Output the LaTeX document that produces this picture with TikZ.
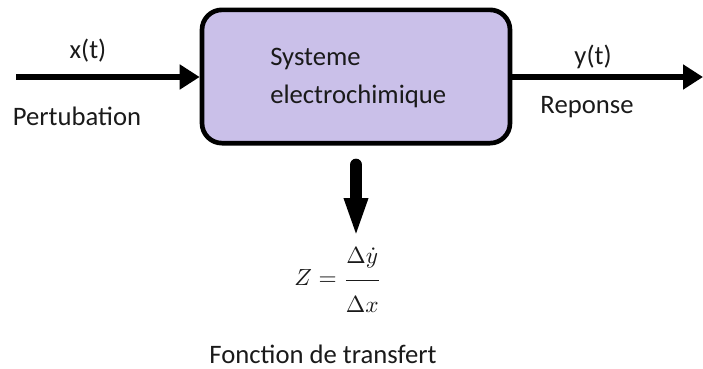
\documentclass[tikz,border=0pt]{standalone}
\usepackage{fontspec}
\setmainfont{Carlito}
\usepackage{amsmath}
\usetikzlibrary{arrows.meta,positioning,calc}
\definecolor{sysFill}{HTML}{CAC0E9}
\definecolor{sysText}{HTML}{1A1A1A}
\tikzset{
  sysbox/.style={
    draw, line width=3.5pt, rounded corners=15pt, fill=sysFill,
    minimum width=231pt, minimum height=100pt
  },
  txt/.style={font=\fontsize{20}{28.5}\selectfont, text=sysText, inner sep=0pt},
  sig/.style={-{Triangle[length=15pt, width=18pt]}, line width=4.2pt},
  bigarrow/.style={-{Triangle[length=30pt, width=16pt]}, line width=9.5pt, line cap=round}
}
\begin{document}
\begin{tikzpicture}[x=0.75pt, y=-0.75pt]
  \useasboundingbox (0,0) rectangle (703,368);
  \node[sysbox] (sys) at (356,76.5) {};
  \node[txt, anchor=west, align=left] (systxt) at (270,78) {Systeme\\electrochimique};
  \coordinate (in) at (16,77);
  \coordinate (out) at (703,77);
  \draw[sig] (in) -- (sys.west |- in);
  \draw[sig] (sys.east |- out) -- (out);
  \node[txt] (xt) at (88,51) {x(t)};
  \node[txt] (pert) at (77,116) {Pertubation};
  \node[txt] (yt) at (593,57) {y(t)};
  \node[txt] (rep) at (587,107) {Reponse};
  % sortie vers la fonction de transfert
  \coordinate (zt) at (356,165);
  \coordinate (zb) at (356,238);
  \draw[bigarrow] (zt) -- (zb);
  \node[inner sep=0pt, text=sysText] (zf) at (338,280)
    {\scalebox{1.75}{$Z=\dfrac{\Delta\dot{y}\rule[-0.59em]{0pt}{0.59em}}{\rule{0pt}{1.27em}\Delta x}$}};
  \node[txt] (tf) at (323,354) {Fonction de transfert};
\end{tikzpicture}
\end{document}
